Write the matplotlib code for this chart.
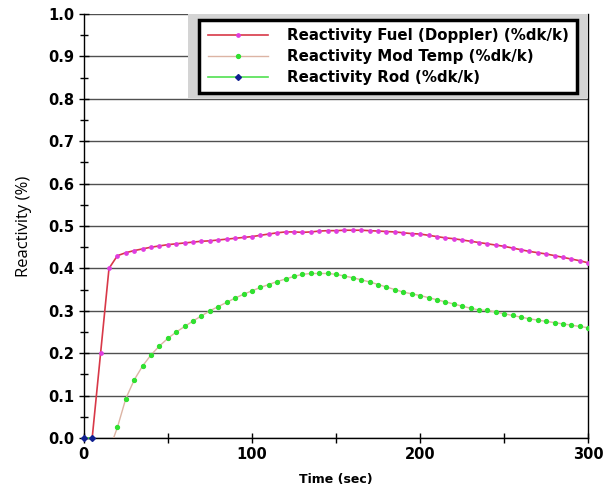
import matplotlib
matplotlib.use("Agg")
import matplotlib.pyplot as plt
from matplotlib.patches import Rectangle

# fuel (doppler) reactivity, every 5 s from 0 to 300
fuel_time = list(range(0, 305, 5))
fuel_vals = [0.0, 0.0, 0.2, 0.4, 0.43, 0.437, 0.442, 0.446, 0.45, 0.453,
             0.456, 0.458, 0.46, 0.462, 0.464, 0.465, 0.467, 0.469, 0.471, 0.473,
             0.475, 0.478, 0.481, 0.484, 0.486, 0.486, 0.485, 0.486, 0.488, 0.489,
             0.489, 0.49, 0.49, 0.49, 0.489, 0.488, 0.487, 0.486, 0.484, 0.482,
             0.481, 0.478, 0.475, 0.472, 0.47, 0.467, 0.464, 0.461, 0.458, 0.455,
             0.452, 0.448, 0.444, 0.44, 0.437, 0.434, 0.43, 0.426, 0.422, 0.418,
             0.413]

# moderator temperature reactivity, every 5 s from 15 to 300
mod_time = list(range(15, 305, 5))
mod_vals = [-0.03, 0.025, 0.093, 0.137, 0.17, 0.196, 0.217, 0.235, 0.25, 0.263,
            0.276, 0.288, 0.3, 0.31, 0.32, 0.33, 0.339, 0.347, 0.355, 0.362,
            0.369, 0.375, 0.381, 0.386, 0.388, 0.388, 0.388, 0.386, 0.382, 0.378,
            0.373, 0.368, 0.362, 0.356, 0.35, 0.344, 0.34, 0.336, 0.331, 0.326,
            0.321, 0.316, 0.311, 0.306, 0.302, 0.301, 0.297, 0.293, 0.289, 0.285,
            0.281, 0.278, 0.275, 0.272, 0.269, 0.266, 0.263, 0.26]

rod_time = [0, 5]
rod_vals = [0.0, 0.0]

labels = ["Reactivity Fuel (Doppler) (%dk/k)",
          "Reactivity Mod Temp (%dk/k)",
          "Reactivity Rod (%dk/k)"]

fig = plt.figure(figsize=(6.16, 4.93), dpi=100)
ax = fig.add_axes([0.136, 0.1116, 0.819, 0.86])

ax.plot(fuel_time, fuel_vals, color="#d83848", lw=1.2, marker="o", ms=2.4,
        mfc="#e03ce0", mec="#e03ce0", label=labels[0], zorder=4)
ax.plot(mod_time, mod_vals, color="#dcb4a4", lw=1.0, marker="o", ms=2.8,
        mfc="#30e030", mec="#30e030", label=labels[1], zorder=3)
ax.plot(rod_time, rod_vals, color="#50e050", lw=1.2, marker="D", ms=3,
        mfc="#102090", mec="#102090", label=labels[2], zorder=5, clip_on=False)

ax.set_xlim(0, 300)
ax.set_ylim(0, 1.0)
ax.set_xticks(range(0, 301, 50))
ax.set_xticklabels(["0", "", "100", "", "200", "", "300"])
ax.set_yticks([i / 10 for i in range(11)])
ax.set_yticks([i / 20 for i in range(1, 20, 2)], minor=True)
ax.set_yticklabels([f"{i / 10:.1f}" for i in range(11)])
for lab in ax.get_xticklabels() + ax.get_yticklabels():
    lab.set_fontweight("bold")
    lab.set_fontsize(10.5)
ax.tick_params(axis="both", which="major", direction="inout", length=7, width=1, pad=3)
ax.tick_params(axis="y", which="minor", direction="inout", length=6, width=1)
ax.yaxis.grid(True, color="#505050", lw=1)
ax.set_axisbelow(True)
for s in ax.spines.values():
    s.set_color("black")
    s.set_linewidth(1)
ax.spines["top"].set_visible(False)

ax.set_xlabel("Time (sec)", fontweight="bold", fontsize=9, labelpad=8)
ax.set_ylabel("Reactivity (%)", fontsize=12, family="Open Sans", labelpad=12)

# grey panel behind the legend
ax.add_patch(Rectangle((0.206, 0.802), 0.794, 0.198, transform=ax.transAxes,
                       facecolor="#d4d4d4", edgecolor="none", zorder=6))
leg = ax.legend(loc="upper right", bbox_to_anchor=(0.978, 0.986), frameon=True,
                fancybox=False, framealpha=1, edgecolor="black",
                prop={"weight": "bold", "size": 10.8}, handlelength=4.0,
                handletextpad=1.3, borderpad=0.55, labelspacing=0.4,
                borderaxespad=0)
leg.get_frame().set_linewidth(2.5)
leg.set_zorder(7)

fig.savefig("out.png", dpi=100)
